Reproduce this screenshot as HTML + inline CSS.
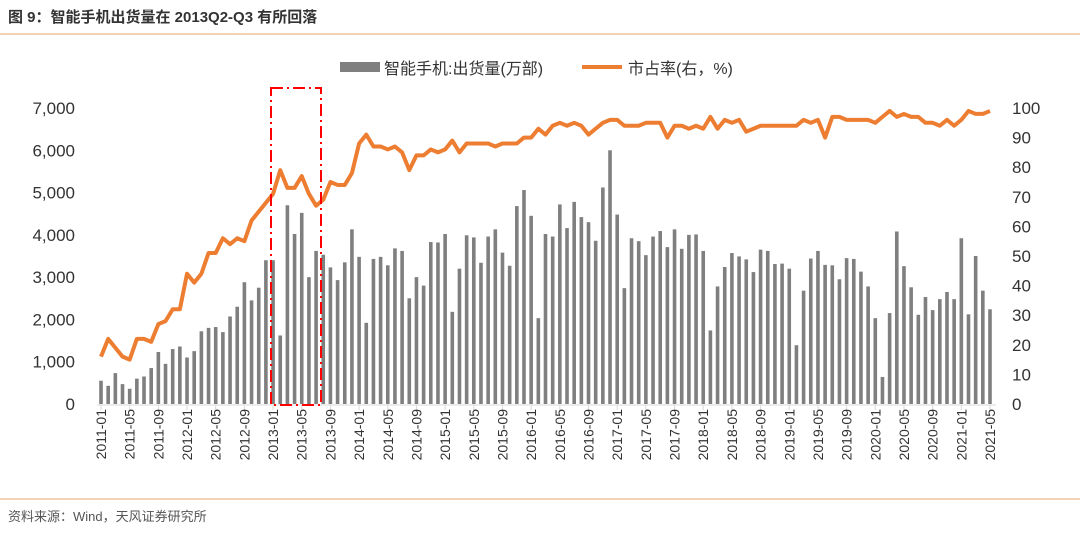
<!DOCTYPE html>
<html><head><meta charset="utf-8"><style>
body{margin:0;background:#fff;width:1080px;height:538px;overflow:hidden;font-family:"Liberation Sans","Noto Sans CJK SC",sans-serif}
</style></head><body>
<svg width="1080" height="538" font-family="Liberation Sans, Noto Sans CJK SC, sans-serif">
<text x="8" y="22" font-size="15" font-weight="bold" fill="#333">图 9：智能手机出货量在 2013Q2-Q3 有所回落</text>
<line x1="0" y1="34" x2="1080" y2="34" stroke="#e8a46a" stroke-width="1"/>
<line x1="0" y1="499" x2="1080" y2="499" stroke="#e8a46a" stroke-width="1"/>
<text x="8" y="521" font-size="13" fill="#555">资料来源：Wind，天风证券研究所</text>
<g>
<rect x="340" y="62" width="40" height="10" fill="#7f7f7f"/>
<text x="384" y="74" font-size="16" fill="#333">智能手机:出货量(万部)</text>
<line x1="582" y1="67" x2="622" y2="67" stroke="#ed7d31" stroke-width="4"/>
<text x="628" y="74" font-size="16" fill="#333">市占率(右，%)</text>
</g>
<g id="axes"></g><g id="bars"></g><g id="line"></g>
<rect x="271" y="88" width="50" height="317" fill="none" stroke="#ff0000" stroke-width="2" stroke-dasharray="12,4,2,4"/>
</svg>
<script>
const shipments=[550,430,730,470,360,600,650,850,1230,950,1300,1360,
1100,1250,1720,1800,1820,1700,2070,2300,2880,2450,2750,3400,
3400,1620,4700,4020,4520,3000,3620,3530,3230,2930,3350,4130,
3480,1920,3430,3480,3280,3680,3620,2500,3000,2800,3830,3820,
4020,2180,3200,3990,3940,3340,3960,4130,3580,3270,4680,5060,
4450,2030,4020,3960,4720,4160,4780,4420,4300,3860,5120,6000,
4480,2740,3920,3850,3520,3960,4090,3710,4130,3670,4000,4010,
3620,1740,2780,3240,3570,3490,3420,3120,3650,3620,3310,3320,
3200,1390,2680,3440,3620,3290,3280,2950,3450,3430,3130,2780,
2030,640,2150,4080,3260,2760,2110,2530,2220,2480,2650,2480,
3920,2120,3500,2680,2240];
const share=[16,22,19,16,15,22,22,21,27,28,32,32,
44,41,44,51,51,56,54,56,55,62,65,68,
71,79,73,73,77,71,67,69,75,74,74,78,
88,91,87,87,86,87,85,79,84,84,86,85,
86,89,85,88,88,88,88,87,88,88,88,90,
90,93,91,94,95,94,95,94,91,93,95,96,
96,94,94,94,95,95,95,90,94,94,93,94,
93,97,93,96,95,96,92,93,94,94,94,94,
94,94,96,95,96,90,97,97,96,96,96,96,
95,97,99,97,98,97,97,95,95,94,96,94,
96,99,98,98,99];
const leftTicks=[0,1000,2000,3000,4000,5000,6000,7000];
const leftTickLabels=["0","1,000","2,000","3,000","4,000","5,000","6,000","7,000"];
const rightTicks=[0,10,20,30,40,50,60,70,80,90,100];
const NS="http://www.w3.org/2000/svg";
const x0=101,x1=990,yb=404,yt=108;
const n=shipments.length;
const xs=i=>x0+(x1-x0)*i/(n-1);
const yl=v=>yb-(yb-yt)*v/7000;
const yr=v=>yb-(yb-yt)*v/100;
function mk(tag,attrs,parent){const e=document.createElementNS(NS,tag);for(const k in attrs)e.setAttribute(k,attrs[k]);document.getElementById(parent).appendChild(e);return e;}
const ax=mk('line',{x1:97,x2:996,y1:yb+1,y2:yb+1,stroke:'#d9d9d9','stroke-width':1},'axes');


leftTicks.forEach((v,i)=>{const t=mk('text',{x:75,y:yl(v)+6,'font-size':17,fill:'#333','text-anchor':'end'},'axes');t.textContent=leftTickLabels[i];

});
rightTicks.forEach(v=>{const t=mk('text',{x:1012,y:yr(v)+6,'font-size':17,fill:'#333'},'axes');t.textContent=String(v);

});
for(let i=0;i<n;i+=4){const y=2011+Math.floor(i/12),m=(i%12)+1;const lab=y+'-'+(m<10?'0':'')+m;
const tk=mk('line',{x1:xs(i),x2:xs(i),y1:yb+1,y2:yb+6,stroke:'#d9d9d9'},'axes');


const t=mk('text',{x:0,y:0,'font-size':14,fill:'#333','text-anchor':'end',transform:`translate(${xs(i)+5},409) rotate(-90)`},'axes');t.textContent=lab;

}
shipments.forEach((v,i)=>{const r=mk('rect',{x:xs(i)-1.8,y:yl(v),width:3.6,height:yb-yl(v),fill:'#7f7f7f'},'bars');

});
const p=mk('polyline',{points:share.map((v,i)=>xs(i)+','+yr(v)).join(' '),fill:'none',stroke:'#ed7d31','stroke-width':4,'stroke-linejoin':'round'},'line');


</script>
</body></html>
